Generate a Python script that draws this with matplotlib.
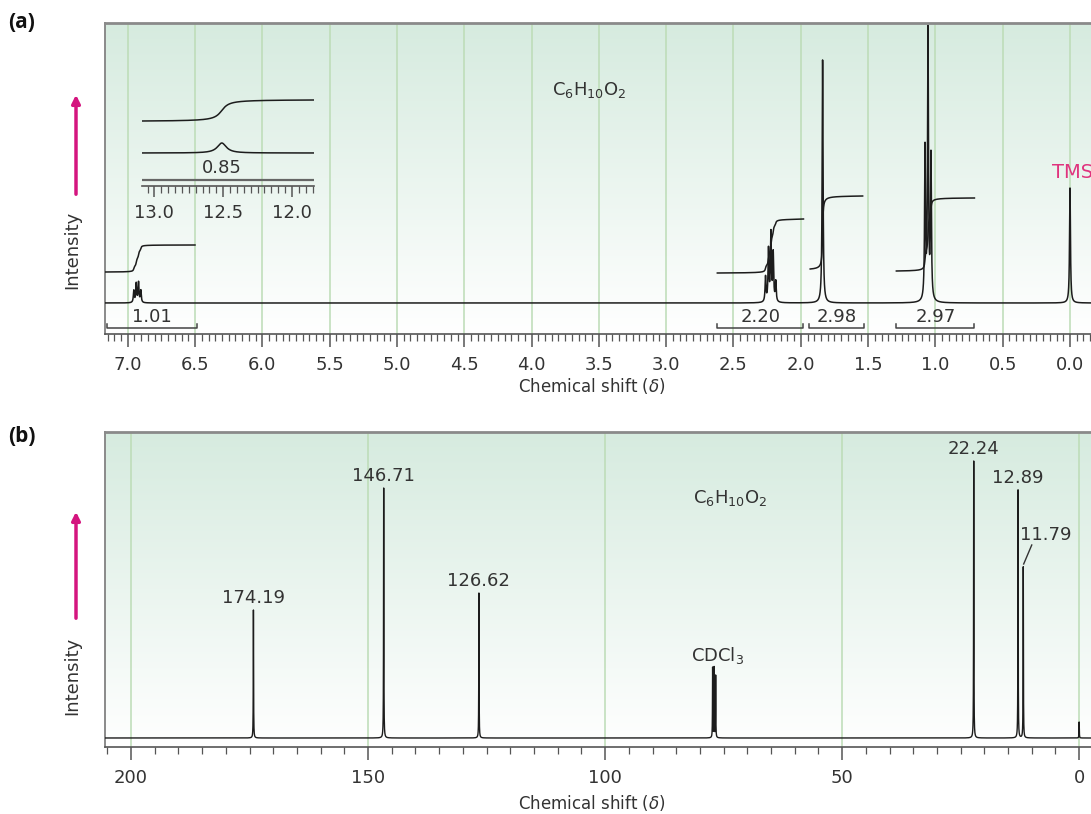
import numpy as np
import matplotlib
import matplotlib.pyplot as plt
from matplotlib.colors import LinearSegmentedColormap
from matplotlib.ticker import MultipleLocator
from matplotlib.patches import FancyArrowPatch

W, H = 1091, 814

# ---- (a) 1H NMR: peak list (ppm, height above baseline) ----
h_ppm = [6.955, 6.937, 6.920, 6.903,
         2.262, 2.240, 2.222, 2.205, 2.186,
         1.838,
         1.077, 1.055, 1.033,
         0.0]
h_int = [12, 19, 20, 12,
         25, 52, 68, 48, 20,
         243,
         151, 268, 143,
         115]

# COOH peak shown in the inset
cooh_ppm = [12.51]
cooh_int = [10]

# integral curves (start ppm, end ppm, low level, high level)
integ_from = [7.17, 2.62, 1.93, 1.29]
integ_to = [6.50, 1.98, 1.54, 0.71]
integ_low = [31, 30, 34, 32]
integ_high = [58, 84, 107, 105]

# integration brackets + values
bracket_from = [7.155, 2.62, 1.94, 1.29]
bracket_to = [6.486, 1.98, 1.53, 0.71]
bracket_labels = ["1.01", "2.20", "2.98", "2.97"]

h_ticks = np.arange(0, 7.01, 0.5)
inset_ticks = [13.0, 12.5, 12.0]

# ---- (b) 13C NMR ----
c_ppm = [174.19, 146.71, 126.62, 77.32, 77.0, 76.68, 22.24, 12.89, 11.79, 0.0]
c_int = [128, 250, 145, 70, 70, 62, 277, 248, 171, 16]
c_labels = ["174.19", "146.71", "126.62", "", "", "", "22.24", "12.89", "", ""]
c_ticks = [200, 150, 100, 50, 0]

plt.rcParams['font.family'] = ['DejaVu Sans']
plt.rcParams['mathtext.default'] = 'regular'

txt = '#333333'
line_c = '#1c1c1c'
grid_c = '#bcdcb6'
magenta = '#d4157f'
bg_cmap = LinearSegmentedColormap.from_list('bg', ['#ffffff', '#d6ebdf'])


def fx(px):
    return px / W


def fy(py):
    return 1 - py / H


def spectrum(x, centers, heights, hw):
    y = np.zeros_like(x)
    for c, h in zip(centers, heights):
        y += h / (1 + ((x - c) / hw) ** 2)
    return y


def setup_axes(ax, ticks, minor):
    grad = np.linspace(1, 0, 256).reshape(-1, 1)
    ax.imshow(grad, extent=[0, 1, 0, 1], transform=ax.transAxes, aspect='auto',
              cmap=bg_cmap, zorder=0)
    for t in ticks:
        ax.axvline(t, color=grid_c, lw=1.1, zorder=1)
    ax.set_xticks(ticks)
    ax.xaxis.set_minor_locator(MultipleLocator(minor))
    ax.set_yticks([])
    ax.tick_params(axis='x', which='major', direction='out', length=9, width=1.1,
                   color='#555555', labelsize=13, labelcolor=txt, pad=7)
    ax.tick_params(axis='x', which='minor', direction='out', length=5, width=0.9,
                   color='#555555')
    ax.spines['right'].set_visible(False)
    ax.spines['top'].set_color('#8a8a8a')
    ax.spines['top'].set_linewidth(2)
    ax.spines['left'].set_color('#8a8a8a')
    ax.spines['left'].set_linewidth(1.4)
    ax.spines['bottom'].set_color('#555555')
    ax.spines['bottom'].set_linewidth(1.2)


fig = plt.figure(figsize=(W / 100, H / 100), dpi=100)

# ================= panel (a) =================
axa = fig.add_axes([fx(105), fy(334), fx(1091) - fx(105), fy(23) - fy(334)])
setup_axes(axa, h_ticks, 0.05)
axa.set_xticklabels([f"{t:.1f}" for t in h_ticks])

xa = np.arange(7.3, -0.3, -0.0005)
ya = spectrum(xa, h_ppm, h_int, 0.004)
axa.plot(xa, ya, color=line_c, lw=1.1, zorder=3)

for f, t, lo, hi in zip(integ_from, integ_to, integ_low, integ_high):
    xs = np.arange(f, t, -0.0005)
    cum = np.cumsum(spectrum(xs, h_ppm, h_int, 0.004))
    cum = cum / cum[-1]
    axa.plot(xs, lo + (hi - lo) * cum, color=line_c, lw=1.1, zorder=3)

for f, t, lab in zip(bracket_from, bracket_to, bracket_labels):
    axa.plot([f, f, t, t], [-21, -25, -25, -21], color='#444444', lw=1.1, zorder=3)
    axa.text((f + t) / 2, -14, lab, ha='center', va='center', fontsize=13, color=txt)

axa.text(3.57, 213, "C$_6$H$_{10}$O$_2$", ha='center', va='center', fontsize=13, color=txt)
axa.text(0.134, 130, "TMS", ha='left', va='center', fontsize=14, color='#e0337e')

axa.set_xlim(7.169, -0.156)
axa.set_ylim(-31, 280)

# inset with the COOH signal
axi = fig.add_axes([fx(142), fy(186), fx(314) - fx(142), fy(95) - fy(186)])
axi.set_facecolor('none')
for s in ['top', 'left', 'right']:
    axi.spines[s].set_visible(False)
axi.spines['bottom'].set_color('#555555')
axi.spines['bottom'].set_linewidth(1.2)
xi = np.arange(13.09, 11.84, -0.001)
yi = spectrum(xi, cooh_ppm, cooh_int, 0.04)
axi.plot(xi, 33 + yi, color=line_c, lw=1.1)
cum = np.cumsum(yi)
axi.plot(xi, 65 + 21 * cum / cum[-1], color=line_c, lw=1.1)
axi.axhline(6, color='#666666', lw=1.6)
axi.text(12.51, 18, "0.85", ha='center', va='center', fontsize=13, color=txt)
axi.set_xticks(inset_ticks)
axi.set_xticklabels([f"{t:.1f}" for t in inset_ticks])
axi.xaxis.set_minor_locator(MultipleLocator(0.05))
axi.set_yticks([])
axi.tick_params(axis='x', which='major', direction='out', length=8, width=1.1,
                color='#555555', labelsize=13, labelcolor=txt, pad=5)
axi.tick_params(axis='x', which='minor', direction='out', length=5, width=0.9,
                color='#555555')
axi.set_xlim(13.09, 11.84)
axi.set_ylim(0, 91)

# ================= panel (b) =================
axb = fig.add_axes([fx(105), fy(747), fx(1091) - fx(105), fy(432) - fy(747)])
setup_axes(axb, c_ticks, 5)
axb.set_xticklabels([str(t) for t in c_ticks])

xb = np.arange(210, -5, -0.01)
yb = spectrum(xb, c_ppm, c_int, 0.035)
axb.plot(xb, yb, color=line_c, lw=1.0, zorder=3)

for p, h, lab in zip(c_ppm, c_int, c_labels):
    if lab:
        axb.text(p, h + 3, lab, ha='center', va='bottom', fontsize=13, color=txt)

# 11.79 label with a leader line
axb.text(7.0, 203, "11.79", ha='center', va='center', fontsize=13, color=txt)
axb.plot([10.0, 11.7], [193, 174], color=txt, lw=1.0)

axb.text(76.3, 72, "CDCl$_3$", ha='center', va='bottom', fontsize=13, color=txt)
axb.text(73.5, 240, "C$_6$H$_{10}$O$_2$", ha='center', va='center', fontsize=13, color=txt)

axb.set_xlim(205.5, -2.5)
axb.set_ylim(-9, 306)

# ================= shared labels =================
for y_lab, y_ax, y_a0, y_a1, tag_y, panel in [(386, 250, 197, 92, 22, "(a)"),
                                               (803, 676, 621, 509, 437, "(b)")]:
    fig.text(fx(592), fy(y_lab), "Chemical shift ($\\mathit{\\delta}$)", ha='center',
             va='center', fontsize=12, color=txt)
    fig.text(fx(72), fy(y_ax), "Intensity", ha='center', va='center', rotation=90,
             fontsize=13, color=txt)
    fig.add_artist(FancyArrowPatch((fx(76), fy(y_a0)), (fx(76), fy(y_a1)),
                                   transform=fig.transFigure, arrowstyle='-|>',
                                   mutation_scale=12, lw=2.5, color=magenta))
    fig.text(fx(8), fy(tag_y), panel, ha='left', va='center', fontsize=15,
             fontweight='bold', color='#111111', family=['Open Sans', 'DejaVu Sans'])

fig.savefig('out.png', dpi=100)
